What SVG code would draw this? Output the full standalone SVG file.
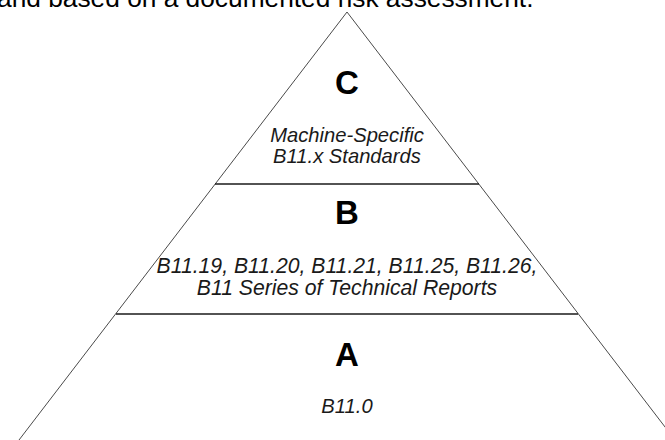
<svg xmlns="http://www.w3.org/2000/svg" width="665" height="440" viewBox="0 0 665 440">
<style>
.edge{stroke:#4a4a4a;stroke-width:1;fill:none}
.div{stroke:#1a1a1a;stroke-width:1.4;fill:none}
.big{font-family:"Liberation Sans",Arial,sans-serif;font-weight:bold;font-size:33px;fill:#000;text-anchor:middle}
.lbl{font-family:"Liberation Sans",Arial,sans-serif;font-style:italic;font-size:20.2px;fill:#1a1a1a;text-anchor:middle}
.lblb{font-size:21.2px}
.top{font-family:"Liberation Sans",Arial,sans-serif;font-size:26.3px;fill:#000}
</style>
<rect width="665" height="440" fill="#fff"/>
<text class="top" x="-3" y="7">and based on a documented risk assessment.</text>
<g id="pyramid">
<path class="edge" d="M19,440 L347,12 L675,440"/>
</g>
<g id="tier-c">
<text class="big" x="347" y="94">C</text>
<text class="lbl" x="347" y="141.5">Machine-Specific</text>
<text class="lbl" x="347" y="163">B11.x Standards</text>
</g>
<g id="tier-b">
<line class="div" x1="215" y1="184" x2="479" y2="184"/>
<text class="big" x="347" y="224">B</text>
<text class="lbl lblb" x="347" y="272.5">B11.19, B11.20, B11.21, B11.25, B11.26,</text>
<text class="lbl lblb" x="347" y="294.5">B11 Series of Technical Reports</text>
</g>
<g id="tier-a">
<line class="div" x1="116" y1="314" x2="578" y2="314"/>
<text class="big" x="347" y="366">A</text>
<text class="lbl" x="347" y="413">B11.0</text>
</g>
<g id="connectors"/>
</svg>
